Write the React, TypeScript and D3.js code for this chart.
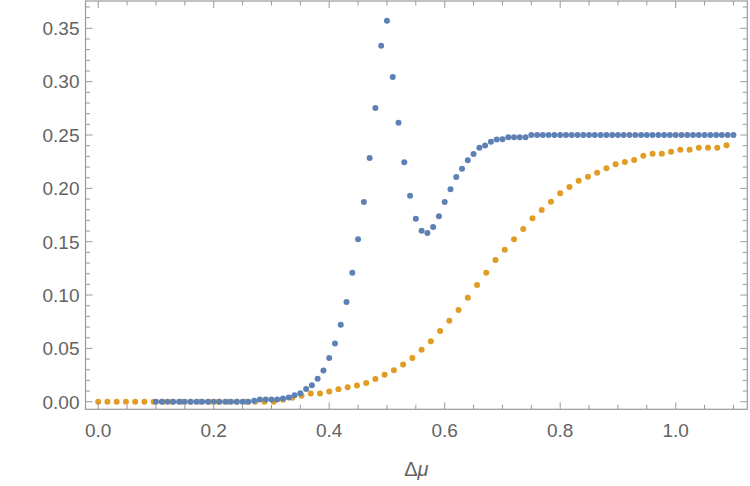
import React from "react";
import * as d3 from "d3";

// Blue series: sampled every 0.01 from 0.10 to 1.10
const blueStart = 0.1;
const blueStep = 0.01;
const blueValues: number[] = [
  // 0.10 – 0.19
  0, 0, 0, 0, 0, 0, 0, 0, 0, 0,
  // 0.20 – 0.29
  0, 0, 0, 0, 0, 0, 0, 0.001, 0.002, 0.002,
  // 0.30 – 0.39
  0.002, 0.002, 0.003, 0.004, 0.006, 0.008, 0.012, 0.0155, 0.0215, 0.0293,
  // 0.40 – 0.49
  0.041, 0.0545, 0.0722, 0.0935, 0.121, 0.1522, 0.1872, 0.2284, 0.2753, 0.3337,
  // 0.50 – 0.59
  0.357, 0.3043, 0.2615, 0.2244, 0.1931, 0.1715, 0.1603, 0.1581, 0.1637, 0.1738,
  // 0.60 – 0.69
  0.1872, 0.1991, 0.2106, 0.2184, 0.2263, 0.2322, 0.2381, 0.2402, 0.2437, 0.2459,
  // 0.70 – 0.79
  0.246, 0.2478, 0.2478, 0.2478, 0.2478, 0.25, 0.25, 0.25, 0.25, 0.25,
  // 0.80 – 0.89
  0.25, 0.25, 0.25, 0.25, 0.25, 0.25, 0.25, 0.25, 0.25, 0.25,
  // 0.90 – 0.99
  0.25, 0.25, 0.25, 0.25, 0.25, 0.25, 0.25, 0.25, 0.25, 0.25,
  // 1.00 – 1.10
  0.25, 0.25, 0.25, 0.25, 0.25, 0.25, 0.25, 0.25, 0.25, 0.25, 0.25,
];

// Orange series: sampled every 0.016 from 0 to 1.088
const orangeStart = 0;
const orangeStep = 0.016;
const orangeValues: number[] = [
  0, 0, 0, 0, 0, 0, 0, 0, 0, 0,
  0, 0, 0, 0, 0, 0, 0, 0, 0, 0,
  0.0019, 0.0037, 0.0056, 0.0078, 0.0078, 0.0097, 0.0116, 0.0135, 0.0153, 0.0175,
  0.0213, 0.0253, 0.0294, 0.035, 0.041, 0.0487, 0.0566, 0.0663, 0.0759, 0.086,
  0.0975, 0.1094, 0.121, 0.1328, 0.1425, 0.1522, 0.162, 0.1719, 0.1797, 0.1875,
  0.1953, 0.2012, 0.2071, 0.2109, 0.2147, 0.2188, 0.2225, 0.2247, 0.2265, 0.2306,
  0.2325, 0.2325, 0.2343, 0.2362, 0.2362, 0.238, 0.238, 0.238, 0.2403,
];

const xMajorTicks = [0, 0.2, 0.4, 0.6, 0.8, 1.0];
const xTickLabels = ["0.0", "0.2", "0.4", "0.6", "0.8", "1.0"];
const yMajorTicks = [0, 0.05, 0.1, 0.15, 0.2, 0.25, 0.3, 0.35];
const yTickLabels = ["0.00", "0.05", "0.10", "0.15", "0.20", "0.25", "0.30", "0.35"];

const W = 750;
const H = 486;
const frame = { left: 85.5, right: 747.3, top: 1, bottom: 409.3 };

const x = d3.scaleLinear().domain([-0.022, 1.124]).range([frame.left, frame.right]);
const y = d3.scaleLinear().domain([-0.0071, 0.3756]).range([frame.bottom, frame.top]);

const blueColor = "#5E81B5";
const orangeColor = "#E19C24";
const frameColor = "#9a9a9a";
const labelColor = "#636363";
const font = "'Liberation Sans', Arial, sans-serif";

const near = (a: number, list: number[]) => list.some((b) => Math.abs(a - b) < 1e-6);

const xMinorTicks = d3
  .range(0, 23)
  .map((i) => +(i * 0.05).toFixed(3))
  .filter((v) => !near(v, xMajorTicks) && v <= 1.124);
const yMinorTicks = d3
  .range(0, 38)
  .map((i) => +(i * 0.01).toFixed(3))
  .filter((v) => !near(v, yMajorTicks) && v <= 0.3756);

const bluePoints = blueValues.map((v, i) => ({ x: blueStart + i * blueStep, y: v }));
const orangePoints = orangeValues.map((v, i) => ({ x: orangeStart + i * orangeStep, y: v }));

const MAJOR = 7;
const MINOR = 4.5;

export default function App() {
  return (
    <svg
      width={W}
      height={H}
      style={{ position: "absolute", left: 0, top: 0, background: "#fff" }}
      fontFamily={font}
    >
      {/* series points */}
      <g>
        {orangePoints.map((p, i) => (
          <circle key={"o" + i} cx={x(p.x)} cy={y(p.y)} r={3} fill={orangeColor} />
        ))}
        {bluePoints.map((p, i) => (
          <circle key={"b" + i} cx={x(p.x)} cy={y(p.y)} r={3} fill={blueColor} />
        ))}
      </g>

      {/* frame */}
      <rect
        x={frame.left}
        y={frame.top}
        width={frame.right - frame.left}
        height={frame.bottom - frame.top}
        fill="none"
        stroke={frameColor}
        strokeWidth={1.2}
      />

      {/* x ticks on bottom and top edges */}
      <g stroke={frameColor} strokeWidth={1}>
        {xMajorTicks.map((t) => (
          <g key={"xM" + t}>
            <line x1={x(t)} x2={x(t)} y1={frame.bottom} y2={frame.bottom - MAJOR} />
            <line x1={x(t)} x2={x(t)} y1={frame.top} y2={frame.top + MAJOR} />
          </g>
        ))}
        {xMinorTicks.map((t) => (
          <g key={"xm" + t}>
            <line x1={x(t)} x2={x(t)} y1={frame.bottom} y2={frame.bottom - MINOR} />
            <line x1={x(t)} x2={x(t)} y1={frame.top} y2={frame.top + MINOR} />
          </g>
        ))}
        {yMajorTicks.map((t) => (
          <g key={"yM" + t}>
            <line x1={frame.left} x2={frame.left + MAJOR} y1={y(t)} y2={y(t)} />
            <line x1={frame.right} x2={frame.right - MAJOR} y1={y(t)} y2={y(t)} />
          </g>
        ))}
        {yMinorTicks.map((t) => (
          <g key={"ym" + t}>
            <line x1={frame.left} x2={frame.left + MINOR} y1={y(t)} y2={y(t)} />
            <line x1={frame.right} x2={frame.right - MINOR} y1={y(t)} y2={y(t)} />
          </g>
        ))}
      </g>

      {/* tick labels */}
      <g fill={labelColor} fontSize={19}>
        {xMajorTicks.map((t, i) => (
          <text key={"xl" + t} x={x(t)} y={437} textAnchor="middle">
            {xTickLabels[i]}
          </text>
        ))}
        {yMajorTicks.map((t, i) => (
          <text key={"yl" + t} x={79.5} y={y(t)} dy="0.36em" textAnchor="end">
            {yTickLabels[i]}
          </text>
        ))}
      </g>

      {/* axis label */}
      <text
        x={(frame.left + frame.right) / 2}
        y={476}
        textAnchor="middle"
        fontSize={20}
        fill={labelColor}
      >
        Δ<tspan fontStyle="italic">μ</tspan>
      </text>
    </svg>
  );
}
